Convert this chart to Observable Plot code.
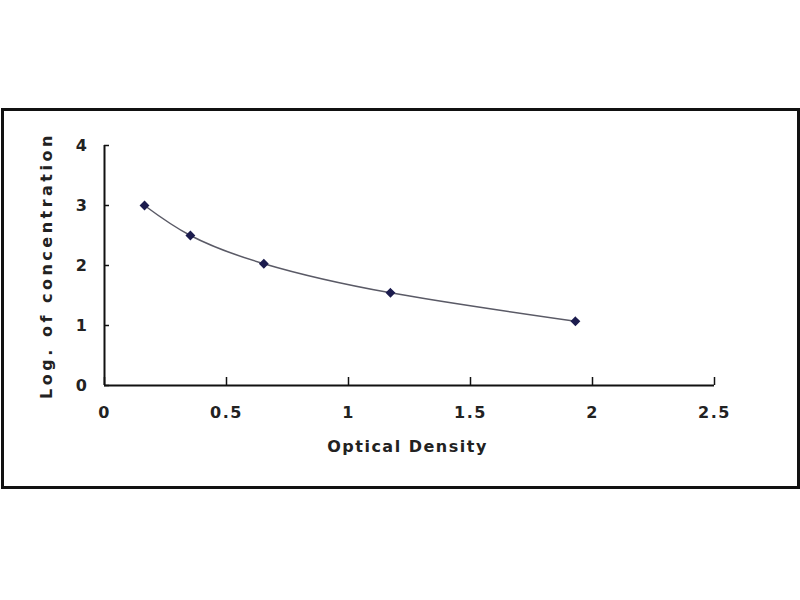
<!DOCTYPE html>
<html>
<head>
<meta charset="utf-8">
<script src="https://cdn.jsdelivr.net/npm/d3@7"></script>
<script src="https://cdn.jsdelivr.net/npm/@observablehq/plot@0.6"></script>
<style>
  html, body { margin: 0; padding: 0; background: #fff; }
  body { width: 800px; height: 600px; position: relative; overflow: hidden; }
  #box { position: absolute; left: 1px; top: 108px; width: 793px; height: 375px; border: 3px solid #111; background: #fff; }
  #box svg { display: block; }
</style>
</head>
<body>
<div id="box"></div>
<script>
// Data
const opticalDensity = [0.164, 0.352, 0.653, 1.172, 1.930];
const logConcentration = [3.0, 2.5, 2.03, 1.545, 1.07];
const xTicks = [0, 0.5, 1, 1.5, 2, 2.5];
const yTicks = [0, 1, 2, 3, 4];
const xLabel = "Optical Density";
const yLabel = "Log. of concentration";

const points = opticalDensity.map((x, i) => ({x, y: logConcentration[i]}));

const textColor = "#222";
const font = "DejaVu Sans, sans-serif";

const chart = Plot.plot({
  width: 793,
  height: 375,
  marginLeft: 100,
  marginRight: 83,
  marginTop: 34,
  marginBottom: 101,
  style: {fontFamily: font, fontSize: "16px", fontWeight: "bold", color: textColor, background: "#fff", overflow: "visible"},
  x: {domain: [0, 2.5]},
  y: {domain: [0, 4]},
  marks: [
    Plot.axisX({ticks: xTicks, tickSize: -8, tickPadding: 29, tickFormat: d => String(d), label: null, stroke: "#111", strokeWidth: 1.5, fill: textColor, fontSize: 16, fontWeight: "bold"}),
    Plot.axisY({ticks: yTicks, tickSize: -5, tickPadding: 21, tickFormat: d => String(d), label: null, stroke: "#111", strokeWidth: 1.5, fill: textColor, fontSize: 16, fontWeight: "bold"}),
    Plot.ruleY([0], {stroke: "#111", strokeWidth: 2}),
    Plot.ruleX([0], {stroke: "#111", strokeWidth: 2}),
    Plot.line(points, {x: "x", y: "y", curve: "natural", stroke: "#5a5a66", strokeWidth: 1.5}),
    Plot.dot(points, {x: "x", y: "y", symbol: "diamond2", r: 3.5, fill: "#1c1c4e", stroke: "#1c1c4e"}),
    Plot.text([xLabel], {text: d => d, frameAnchor: "bottom", textAnchor: "middle", lineAnchor: "bottom", dx: -2, dy: 66, fill: textColor, fontSize: 16, fontWeight: "bold"}),
    Plot.text([yLabel], {text: d => d, frameAnchor: "left", textAnchor: "middle", lineAnchor: "middle", dx: -58, rotate: -90, fill: textColor, fontSize: 16, fontWeight: "bold"})
  ]
});

d3.select(chart).selectAll("text").each(function() {
  const t = this.textContent;
  if (t === yLabel) d3.select(this).style("letter-spacing", "3.5px");
  else d3.select(this).style("letter-spacing", "1.5px");
});

document.getElementById("box").appendChild(chart);
</script>
</body>
</html>
